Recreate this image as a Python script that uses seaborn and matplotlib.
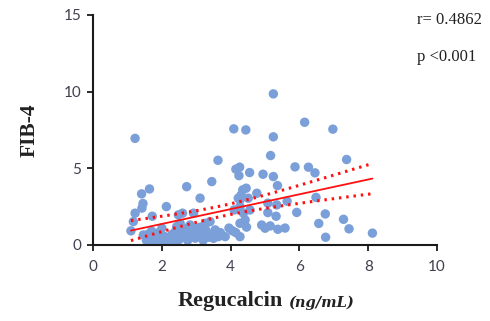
import numpy as np
import pandas as pd
import matplotlib
matplotlib.use('Agg')
import matplotlib.pyplot as plt
import seaborn as sns

# Regucalcin (ng/mL) vs FIB-4
# (the dense low cluster is estimated, many dots overlap there)
regucalcin = [1.10, 1.17, 1.22, 1.22, 1.41, 1.42, 1.45, 1.46, 1.64, 1.66,
              1.72, 1.75, 1.80, 1.95, 2.09, 2.13, 2.14, 2.24, 2.38, 2.43,
              2.48, 2.53, 2.60, 2.72, 2.72, 2.82, 2.82, 2.92, 2.97, 2.97,
              3.10, 3.11, 3.16, 3.26, 3.30, 3.40, 3.45, 3.45, 3.50, 3.55,
              3.63, 3.64, 3.84, 3.95, 4.05, 4.09, 4.10, 4.15, 4.15, 4.22,
              4.24, 4.26, 4.27, 4.27, 4.27, 4.27, 4.30, 4.35, 4.37, 4.42,
              4.44, 4.45, 4.46, 4.51, 4.55, 4.56, 4.76, 4.90, 4.94, 5.00,
              5.08, 5.08, 5.15, 5.16, 5.24, 5.24, 5.24, 5.32, 5.34, 5.36,
              5.37, 5.58, 5.64, 5.87, 5.92, 6.15, 6.26, 6.45, 6.48, 6.56,
              6.75, 6.76, 6.97, 7.28, 7.37, 7.44, 8.12,
              1.55, 1.60, 1.85, 1.90, 2.00, 2.20, 2.30, 2.50, 2.55, 2.65,
              2.75, 2.90, 3.00, 3.20, 3.35, 3.70, 3.25, 2.40, 1.70, 2.00]
fib4 = [0.92, 1.52, 2.07, 6.95, 3.33, 2.40, 2.70, 0.65, 3.65, 0.44,
        1.87, 0.11, 0.54, 0.33, 0.54, 2.50, 0.11, 0.44, 0.22, 1.19,
        1.96, 1.41, 2.07, 1.09, 3.80, 0.76, 1.30, 2.07, 0.44, 1.09,
        1.15, 3.05, 0.65, 1.41, 0.87, 1.52, 4.13, 0.65, 0.43, 0.98,
        5.52, 0.54, 0.54, 1.10, 0.92, 7.57, 2.28, 0.80, 4.94, 3.05,
        4.52, 5.07, 0.54, 1.41, 2.50, 2.94, 3.24, 3.59, 2.07, 1.63,
        7.50, 3.70, 1.16, 3.05, 4.72, 2.28, 3.37, 1.30, 4.61, 1.09,
        2.72, 2.11, 1.24, 5.83, 9.85, 7.05, 4.46, 1.87, 2.61, 3.87,
        1.02, 1.10, 2.85, 5.09, 2.12, 8.00, 5.07, 4.70, 3.10, 1.40,
        2.02, 0.50, 7.55, 1.67, 5.57, 1.05, 0.77,
        0.30, 0.70, 0.20, 0.80, 0.45, 0.25, 0.70, 0.35, 0.80, 0.50,
        0.30, 0.60, 0.85, 0.30, 0.50, 0.80, 1.10, 0.90, 0.90, 1.10]
r_text = 'r= 0.4862'
p_text = 'p <0.001'

df = pd.DataFrame({'Regucalcin': regucalcin, 'FIB4': fib4})

# linear fit + 95% confidence band of the mean
x = df['Regucalcin'].values
y = df['FIB4'].values
n = len(x)
slope, intercept = np.polyfit(x, y, 1)
resid = y - (slope * x + intercept)
s = np.sqrt(np.sum(resid ** 2) / (n - 2))
xs = np.linspace(x.min(), x.max(), 100)
ys = slope * xs + intercept
se = s * np.sqrt(1 / n + (xs - x.mean()) ** 2 / np.sum((x - x.mean()) ** 2))
t = 1.98
lo = ys - t * se
hi = ys + t * se

sns.set_style('ticks')
fig = plt.figure(figsize=(4.9, 3.21), dpi=100)
ax = fig.add_axes([0.19, 0.237, 0.702, 0.7165])

sns.scatterplot(data=df, x='Regucalcin', y='FIB4', ax=ax, color='#7B9FD8',
                s=46, edgecolor='none', linewidth=0, zorder=2)
ax.plot(xs, ys, color='#FF1010', lw=1.3, zorder=3)
ax.plot(xs, lo, color='#FF1010', lw=2.2, linestyle=(0, (0.8, 1.6)), zorder=3)
ax.plot(xs, hi, color='#FF1010', lw=2.2, linestyle=(0, (0.8, 1.6)), zorder=3)

ax.set_xlim(0, 10)
ax.set_ylim(0, 15)
ax.set_xticks([0, 2, 4, 6, 8, 10])
ax.set_yticks([0, 5, 10, 15])
ax.set_xlabel('')
ax.set_ylabel('')
sns.despine(ax=ax)
for sp in ['left', 'bottom']:
    ax.spines[sp].set_linewidth(1.5)
    ax.spines[sp].set_color('#1a1a1a')
ax.tick_params(length=4.5, width=1.3, color='#1a1a1a', labelsize=11,
               labelcolor='#404050', pad=4)
ax.tick_params(axis='x', pad=6)
for lab in ax.get_xticklabels() + ax.get_yticklabels():
    lab.set_family(['Lato', 'DejaVu Sans'])

serif = ['Liberation Serif', 'DejaVu Serif']
fig.text(0.061, 0.595, 'FIB-4', rotation=90, ha='center', va='center',
         fontsize=15.5, fontweight='bold', family=serif, color='#222222')
fig.text(0.578, 0.062, 'Regucalcin', ha='right', va='center',
         fontsize=16, fontweight='bold', family=serif, color='#222222')
fig.text(0.587, 0.058, '(ng/mL)', ha='left', va='center', fontsize=10.5,
         fontweight='bold', style='italic', family=['DejaVu Serif'],
         color='#222222')
fig.text(0.851, 0.937, r_text, ha='left', va='center', fontsize=12,
         family=serif, color='#222222')
fig.text(0.851, 0.822, p_text, ha='left', va='center', fontsize=12,
         family=serif, color='#222222')

fig.savefig('out.png', dpi=100)
